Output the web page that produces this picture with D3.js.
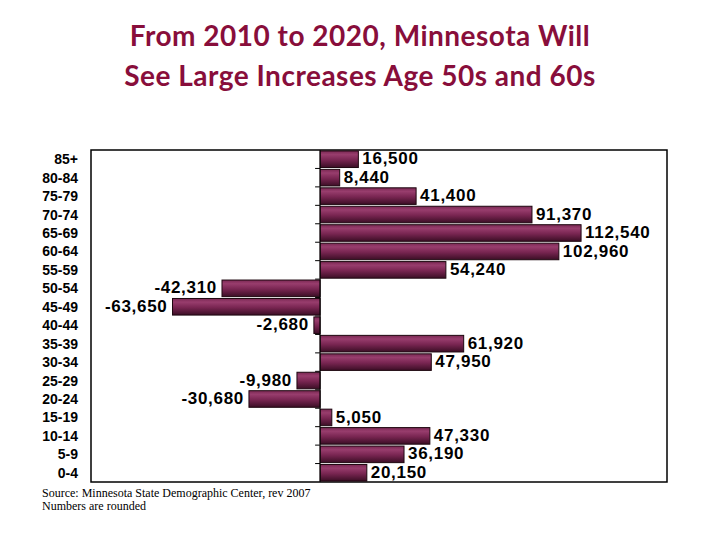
<!DOCTYPE html>
<html>
<head>
<meta charset="utf-8">
<script src="https://cdn.jsdelivr.net/npm/d3@7"></script>
<style>
  body { margin: 0; background: #fff; }
  svg { display: block; }
</style>
</head>
<body>
<svg id="chart" width="720" height="540"></svg>
<script>
// age groups top to bottom, change 2010-2020
var ageGroups = ["85+", "80-84", "75-79", "70-74", "65-69", "60-64", "55-59", "50-54", "45-49",
	"40-44", "35-39", "30-34", "25-29", "20-24", "15-19", "10-14", "5-9", "0-4"];
var change = [16500, 8440, 41400, 91370, 112540, 102960, 54240, -42310, -63650,
	-2680, 61920, 47950, -9980, -30680, 5050, 47330, 36190, 20150];
var titleLines = ["From 2010 to 2020, Minnesota Will", "See Large Increases Age 50s and 60s"];
var notes = ["Source: Minnesota State Demographic Center, rev 2007", "Numbers are rounded"];

var svg = d3.select("#chart");
var box = { left: 91, right: 667, top: 150, bottom: 482 };

var x = d3.scaleLinear().domain([-98800, 149600]).range([box.left, box.right]);
var y = d3.scaleBand().domain(ageGroups).range([box.top, box.bottom]).paddingInner(0.1).paddingOuter(0.05);
var fmt = d3.formatLocale({ decimal: ".", thousands: ",", grouping: [3], currency: ["", ""], minus: "-" }).format(",");

var grad = svg.append("defs").append("linearGradient")
	.attr("id", "barGrad").attr("x1", 0).attr("y1", 0).attr("x2", 0).attr("y2", 1);
grad.append("stop").attr("offset", "0%").attr("stop-color", "#7a2853");
grad.append("stop").attr("offset", "22%").attr("stop-color", "#983d6d");
grad.append("stop").attr("offset", "55%").attr("stop-color", "#782551");
grad.append("stop").attr("offset", "100%").attr("stop-color", "#3b0e25");

// title
svg.selectAll("text.title")
	.data(titleLines)
	.enter()
	.append("text")
	.attr("class", "title")
	.attr("x", 360)
	.attr("y", function(d, i) { return 46 + i * 40; })
	.attr("text-anchor", "middle")
	.style("font-family", "Lato, 'Open Sans', sans-serif")
	.style("font-weight", "bold")
	.style("font-size", "28px")
	.style("letter-spacing", "0.5px")
	.style("fill", "#880e3b")
	.text(function(d) { return d; });

// plot frame
svg.append("rect")
	.attr("x", box.left).attr("y", box.top)
	.attr("width", box.right - box.left).attr("height", box.bottom - box.top)
	.style("fill", "none").style("stroke", "#000").style("stroke-width", 1.5);

// ticks at category boundaries
svg.selectAll("line.tick")
	.data(ageGroups.slice(1))
	.enter()
	.append("line")
	.attr("class", "tick")
	.attr("x1", x(0) - 5).attr("x2", x(0))
	.attr("y1", function(d) { return y(d) - y.step() * y.paddingInner() / 2; })
	.attr("y2", function(d) { return y(d) - y.step() * y.paddingInner() / 2; })
	.style("stroke", "#000").style("stroke-width", 1);

// bars
svg.selectAll("rect.bar")
	.data(change)
	.enter()
	.append("rect")
	.attr("class", "bar")
	.attr("x", function(d) { return x(Math.min(0, d)); })
	.attr("y", function(d, i) { return y(ageGroups[i]); })
	.attr("width", function(d) { return Math.abs(x(d) - x(0)); })
	.attr("height", y.bandwidth())
	.style("fill", "url(#barGrad)")
	.style("stroke", "#1e0710")
	.style("stroke-width", 1);

// zero axis
svg.append("line")
	.attr("x1", x(0)).attr("x2", x(0))
	.attr("y1", box.top).attr("y2", box.bottom)
	.style("stroke", "#000").style("stroke-width", 1);

// value labels
svg.selectAll("text.value")
	.data(change)
	.enter()
	.append("text")
	.attr("class", "value")
	.attr("x", function(d) { return d < 0 ? x(d) - 5 : x(d) + 4; })
	.attr("y", function(d, i) { return y(ageGroups[i]) + y.bandwidth() / 2 - 1; })
	.attr("dy", "0.36em")
	.attr("text-anchor", function(d) { return d < 0 ? "end" : "start"; })
	.style("font-family", "'Liberation Sans', Arial, sans-serif")
	.style("font-weight", "bold")
	.style("font-size", "17px")
	.style("letter-spacing", "0.7px")
	.style("fill", "#000")
	.text(function(d) { return fmt(d); });

// category labels
svg.selectAll("text.cat")
	.data(ageGroups)
	.enter()
	.append("text")
	.attr("class", "cat")
	.attr("x", 78)
	.attr("y", function(d) { return y(d) + y.bandwidth() / 2; })
	.attr("dy", "0.36em")
	.attr("text-anchor", "end")
	.style("font-family", "'Liberation Sans', Arial, sans-serif")
	.style("font-weight", "bold")
	.style("font-size", "14px")
	.style("fill", "#000")
	.text(function(d) { return d; });

// notes
svg.selectAll("text.note")
	.data(notes)
	.enter()
	.append("text")
	.attr("class", "note")
	.attr("x", 42)
	.attr("y", function(d, i) { return 497 + i * 13; })
	.style("font-family", "'Liberation Serif', 'Times New Roman', serif")
	.style("font-size", "12px")
	.style("fill", "#000")
	.text(function(d) { return d; });
</script>
</body>
</html>
